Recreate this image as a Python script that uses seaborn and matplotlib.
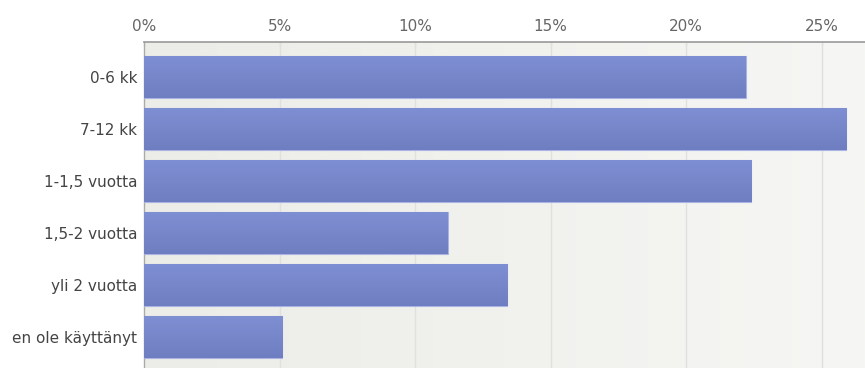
import numpy as np
import matplotlib
matplotlib.use("Agg")
import matplotlib.pyplot as plt
import seaborn as sns

# Survey answers: how long the service has been used (share of respondents, %)
categories = ["0-6 kk", "7-12 kk", "1-1,5 vuotta", "1,5-2 vuotta", "yli 2 vuotta", "en ole käyttänyt"]
shares = [22.2, 25.9, 22.4, 11.2, 13.4, 5.1]
tick_values = [0, 5, 10, 15, 20, 25]
tick_labels = ["0%", "5%", "10%", "15%", "20%", "25%"]

sns.set_theme(style="white")
plt.rcParams["font.family"] = ["DejaVu Sans"]

fig = plt.figure(figsize=(8.65, 3.68), dpi=100)
ax = fig.add_axes([144 / 865, 0.0, 1 - 144 / 865, 1 - 42 / 368])

# soft horizontal gradient behind the bars
grad = np.linspace(0, 1, 256).reshape(1, -1)
bg_cmap = matplotlib.colors.LinearSegmentedColormap.from_list("bg", ["#ecede8", "#f6f7f4"])
ax.imshow(grad, aspect="auto", cmap=bg_cmap, extent=[0, 1, 0, 1],
          transform=ax.transAxes, zorder=0)

sns.barplot(x=shares, y=categories, orient="h", color="#7887c9", saturation=1,
            width=0.81, edgecolor="#aab4e4", linewidth=0.8, ax=ax, zorder=3)

ax.set_xlim(0, 26.6)
ax.set_ylim(5.596, -0.673)

# subtle top-to-bottom shading inside each bar
bar_cmap = matplotlib.colors.LinearSegmentedColormap.from_list("bar", ["#7f8fd3", "#6f7ec0"])
vgrad = np.linspace(0, 1, 64).reshape(-1, 1)
for patch in list(ax.patches):
    x0, y0 = patch.get_x(), patch.get_y()
    w, h = patch.get_width(), patch.get_height()
    im = ax.imshow(vgrad, aspect="auto", cmap=bar_cmap,
                   extent=[x0, x0 + w, y0 + h, y0], origin="upper", zorder=3.5)
    im.set_clip_path(patch)
ax.set_xlim(0, 26.6)
ax.set_ylim(5.596, -0.673)

ax.xaxis.tick_top()
ax.set_xticks(tick_values)
ax.set_xticklabels(tick_labels)
ax.tick_params(axis="x", direction="in", length=3, width=0.8, color="#999999",
               labelsize=11, labelcolor="#666666", pad=6)
ax.tick_params(axis="y", length=0, labelsize=11, labelcolor="#444444", pad=5)

for v in tick_values[1:]:
    ax.axvline(v, color="#e0e1dd", lw=1, zorder=1)

for side in ["right", "bottom"]:
    ax.spines[side].set_visible(False)
ax.spines["top"].set_color("#999999")
ax.spines["top"].set_linewidth(1.2)
ax.spines["left"].set_color("#aaaaaa")
ax.spines["left"].set_linewidth(1.0)

ax.set_xlabel("")
ax.set_ylabel("")

fig.savefig("out.png", dpi=100, facecolor="white")
